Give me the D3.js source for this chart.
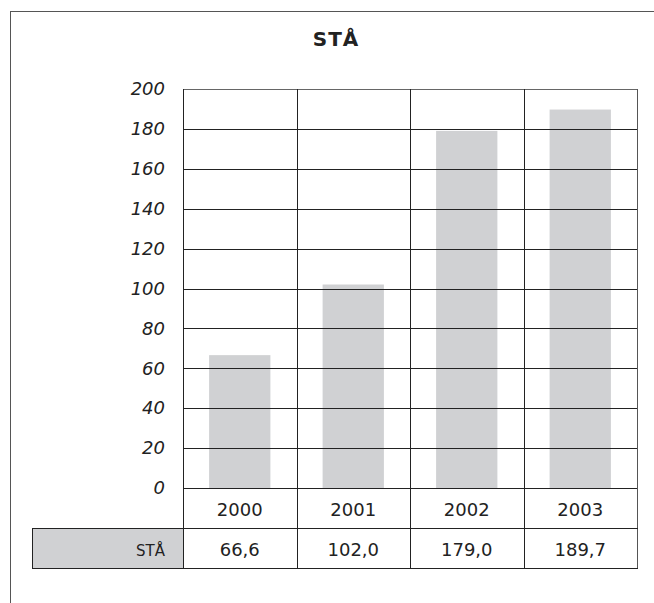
<!DOCTYPE html>
<html>
<head>
<meta charset="utf-8">
<script src="https://cdn.jsdelivr.net/npm/d3@7"></script>
<style>
  body { margin: 0; background: #fff; }
  text { font-family: "DejaVu Sans", Verdana, sans-serif; fill: #222; }
</style>
</head>
<body>
<div id="chart"></div>
<script>
// chart data
var title = "STÅ";
var seriesName = "STÅ";
var years = ["2000", "2001", "2002", "2003"];
var values = [66.6, 102.0, 179.0, 189.7];
var yTicks = [0, 20, 40, 60, 80, 100, 120, 140, 160, 180, 200];

var svgWidth = 654;
var svgHeight = 603;

// plot area
var plot = { left: 183, right: 637, top: 89, bottom: 488 };
var rowHeight = 40;
var labelLeft = 32;

var svg = d3.select("#chart")
            .append("svg")
            .attr("width", svgWidth)
            .attr("height", svgHeight);

// outer frame (right and bottom edges run off the page)
svg.append("rect")
   .attr("x", 10.5)
   .attr("y", 11.5)
   .attr("width", 800)
   .attr("height", 800)
   .attr("fill", "none")
   .attr("stroke", "#555")
   .attr("stroke-width", 1);

// title
svg.append("text")
   .attr("x", 336)
   .attr("y", 46)
   .attr("text-anchor", "middle")
   .attr("font-size", "20px")
   .attr("font-weight", "bold")
   .attr("letter-spacing", "1px")
   .text(title);

// scales
var xScale = d3.scaleBand()
               .domain(years)
               .range([plot.left, plot.right])
               .paddingInner(0.46)
               .paddingOuter(0.23);
var step = xScale.step();
var yScale = d3.scaleLinear()
               .domain([0, 200])
               .range([plot.bottom, plot.top]);

// bars
svg.append("g")
   .selectAll("rect")
   .data(values)
   .enter()
   .append("rect")
   .attr("x", (d, i) => xScale(years[i]))
   .attr("y", d => yScale(d))
   .attr("width", xScale.bandwidth())
   .attr("height", d => yScale(0) - yScale(d))
   .attr("fill", "#d0d1d3");

// horizontal grid lines
svg.append("g")
   .selectAll("line")
   .data(yTicks)
   .enter()
   .append("line")
   .attr("x1", plot.left)
   .attr("x2", plot.right)
   .attr("y1", d => Math.round(yScale(d)) + 0.5)
   .attr("y2", d => Math.round(yScale(d)) + 0.5)
   .attr("stroke", (d, i) => i == yTicks.length - 1 ? "#666" : "#222")
   .attr("stroke-width", 1);

// y axis labels
var yAxis = d3.axisLeft(yScale)
              .tickValues(yTicks)
              .tickSize(0)
              .tickPadding(18);
var yAxisG = svg.append("g")
                .attr("transform", `translate(${plot.left}, 0)`)
                .call(yAxis);
yAxisG.select(".domain").remove();
yAxisG.selectAll("text")
      .attr("font-size", "18px")
      .attr("font-style", "italic")
      .attr("font-family", "DejaVu Sans, Verdana, sans-serif")
      .attr("fill", "#222");

// vertical column lines through plot and table
var tableBottom = plot.bottom + 2 * rowHeight;
var colEdges = years.map((d, i) => plot.left + i * step).concat([plot.right]);
svg.append("g")
   .selectAll("line")
   .data(colEdges)
   .enter()
   .append("line")
   .attr("x1", d => Math.round(d) + 0.5)
   .attr("x2", d => Math.round(d) + 0.5)
   .attr("y1", plot.top)
   .attr("y2", tableBottom)
   .attr("stroke", (d, i) => i == colEdges.length - 1 ? "#555" : "#222")
   .attr("stroke-width", 1);

// data table
svg.append("rect")
   .attr("x", labelLeft + 0.5)
   .attr("y", plot.bottom + rowHeight + 0.5)
   .attr("width", plot.left - labelLeft)
   .attr("height", rowHeight)
   .attr("fill", "#d0d1d3")
   .attr("stroke", "#222");

[plot.bottom + rowHeight, tableBottom].forEach(function(y) {
    svg.append("line")
       .attr("x1", labelLeft)
       .attr("x2", plot.right + 1)
       .attr("y1", y + 0.5)
       .attr("y2", y + 0.5)
       .attr("stroke", "#222");
});

var fmt = d3.formatLocale({ decimal: ",", thousands: " ", grouping: [3], currency: ["", ""] }).format(".1f");

svg.append("g")
   .selectAll("text")
   .data(years)
   .enter()
   .append("text")
   .attr("x", d => xScale(d) + xScale.bandwidth() / 2)
   .attr("y", plot.bottom + 28)
   .attr("text-anchor", "middle")
   .attr("font-size", "18px")
   .text(d => d);

svg.append("g")
   .selectAll("text")
   .data(values)
   .enter()
   .append("text")
   .attr("x", (d, i) => xScale(years[i]) + xScale.bandwidth() / 2)
   .attr("y", plot.bottom + rowHeight + 28)
   .attr("text-anchor", "middle")
   .attr("font-size", "18px")
   .text(d => fmt(d));

svg.append("text")
   .attr("x", 165)
   .attr("y", plot.bottom + rowHeight + 28)
   .attr("text-anchor", "end")
   .attr("font-size", "15px")
   .text(seriesName);
</script>
</body>
</html>
